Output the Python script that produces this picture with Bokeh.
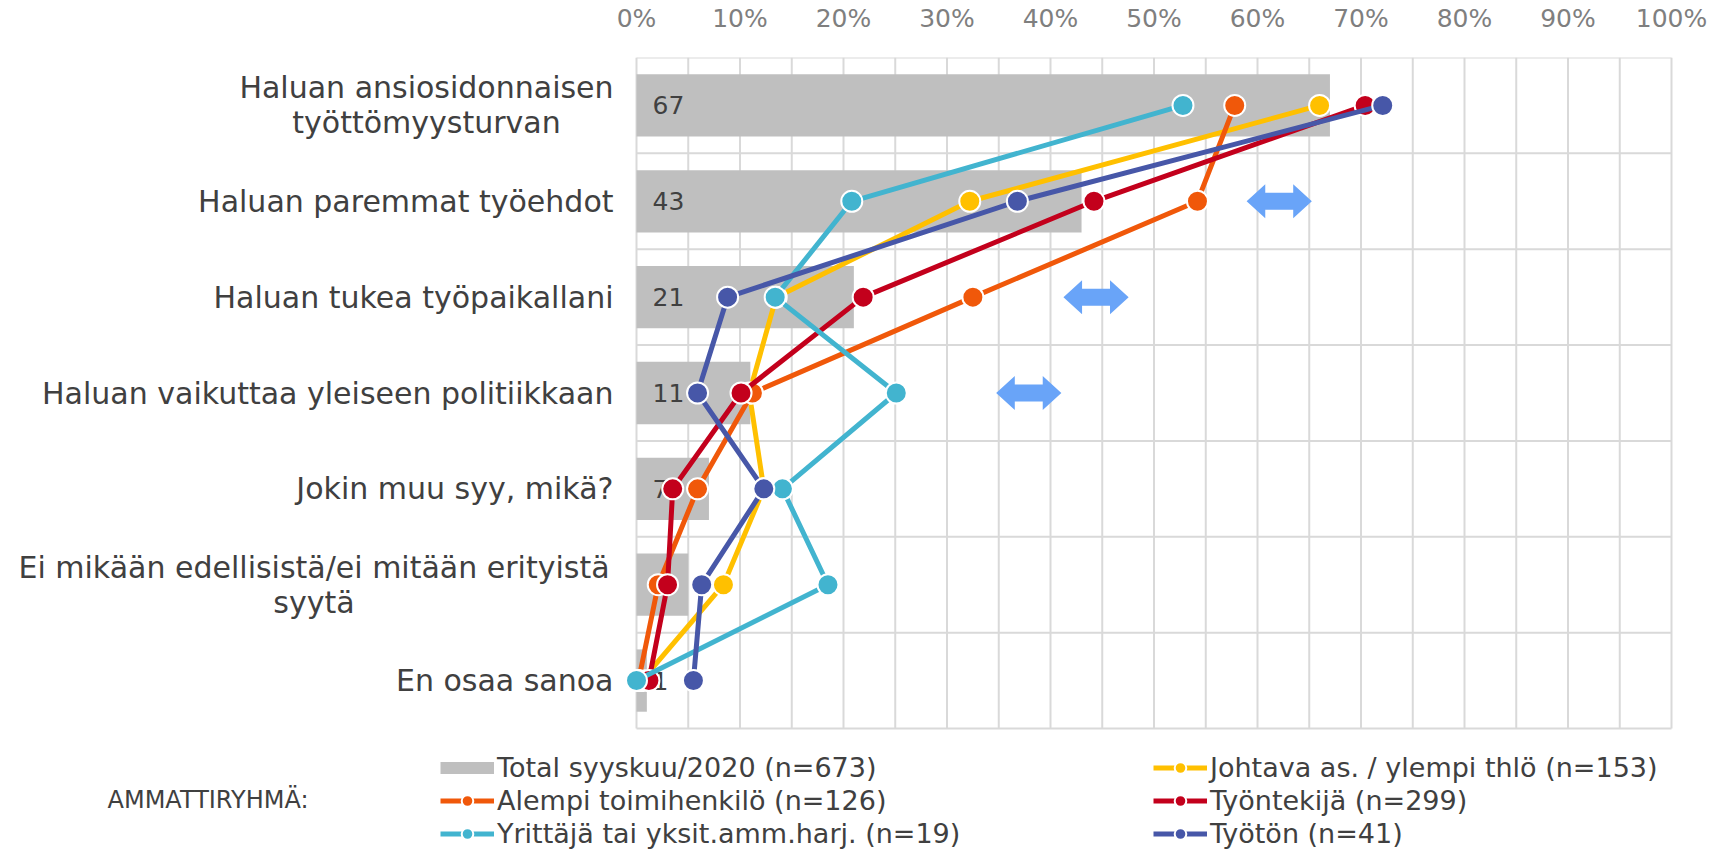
from bokeh.plotting import figure
from bokeh.models import Range1d, FixedTicker, Legend, LegendItem
from bokeh.core.properties import value
from bokeh.embed import file_html
from bokeh.resources import INLINE

# ---------------- data ----------------
categories = [
    "Haluan ansiosidonnaisen\ntyöttömyysturvan",
    "Haluan paremmat työehdot",
    "Haluan tukea työpaikallani",
    "Haluan vaikuttaa yleiseen politiikkaan",
    "Jokin muu syy, mikä?",
    "Ei mikään edellisistä/ei mitään erityistä\nsyytä",
    "En osaa sanoa",
]
total = [67, 43, 21, 11, 7, 5, 1]
johtava = [66.0, 32.2, 13.5, 10.9, 12.3, 8.4, 0.5]
alempi = [57.8, 54.2, 32.5, 11.2, 5.9, 2.1, 0.2]
tyontekija = [70.4, 44.2, 21.9, 10.1, 3.5, 3.0, 1.2]
yrittaja = [52.8, 20.8, 13.4, 25.1, 14.1, 18.5, 0.0]
tyoton = [72.1, 36.8, 8.8, 5.9, 12.3, 6.3, 5.5]

total_name = "Total syyskuu/2020 (n=673)"
series_names = [
    "Johtava as. / ylempi thlö (n=153)",
    "Alempi toimihenkilö (n=126)",
    "Työntekijä (n=299)",
    "Yrittäjä tai yksit.amm.harj. (n=19)",
    "Työtön (n=41)",
]
series_values = [johtava, alempi, tyontekija, yrittaja, tyoton]
legend_title = "AMMATTIRYHMÄ:"

tick_values = [0, 10, 20, 30, 40, 50, 60, 70, 80, 90, 100]
tick_labels = ["0%", "10%", "20%", "30%", "40%", "50%", "60%", "70%", "80%", "90%", "100%"]
grid_values = list(range(0, 101, 5))

arrow_rows = [1, 2, 3]
arrow_centers = [62.1, 44.4, 37.9]

# ---------------- styles / layout ----------------
colors = ["#FFC000", "#F0580A", "#C3001C", "#42B4CF", "#4757A8"]
bar_color = "#BFBFBF"
grid_color = "#D9D9D9"
text_color = "#404040"
arrow_color = "#69A4F8"
FONT = "DejaVu Sans"

W, H = 1711, 849
X0, X100 = 636, 1671          # canvas px of 0% and 100%
Y0, Y7 = 57, 728              # canvas px of top and bottom of the category area
n = len(categories)
PX_X = (X100 - X0) / 100.0
PX_Y = (Y7 - Y0) / float(n)

def dx(px):   # canvas px -> data x
    return (px - X0) / PX_X

def dy(px):   # canvas px -> data y (0 at top)
    return (px - Y0) / PX_Y

p = figure(width=W, height=H, x_range=Range1d(dx(0), dx(W)), y_range=Range1d(dy(H), 0),
           x_axis_location="above", y_axis_location=None,
           toolbar_location=None, output_backend="svg",
           min_border_left=0, min_border_right=0, min_border_top=Y0, min_border_bottom=0)
p.outline_line_color = None
p.background_fill_color = "white"
p.border_fill_color = "white"
p.xgrid.visible = False
p.ygrid.visible = False

ax = p.xaxis[0]
ax.ticker = FixedTicker(ticks=tick_values)
ax.major_label_overrides = {v: l for v, l in zip(tick_values, tick_labels)}
ax.axis_line_color = None
ax.major_tick_line_color = None
ax.minor_tick_line_color = None
ax.major_tick_out = 0
ax.major_tick_in = 0
ax.minor_tick_out = 0
ax.minor_tick_in = 0
ax.major_label_text_font = FONT
ax.major_label_text_font_size = "25px"
ax.major_label_text_color = "#7F7F7F"
ax.major_label_standoff = 25

# grid
p.segment(x0=grid_values, y0=[0] * len(grid_values), x1=grid_values, y1=[n] * len(grid_values),
          line_color=grid_color, line_width=2)
hl_y = list(range(n + 1))
p.segment(x0=[0] * len(hl_y), y0=hl_y, x1=[100] * len(hl_y), y1=hl_y,
          line_color=grid_color, line_width=2)

centers = [i + 0.5 for i in range(n)]

# bars
p.hbar(y=centers, left=0, right=total, height=0.65, fill_color=bar_color, line_color=None)
p.text(x=[0] * n, y=centers, text=[str(v) for v in total], x_offset=16,
       text_align="left", text_baseline="middle", text_font=value(FONT),
       text_font_size="25px", text_color=text_color)

# legend swatch for the bar series (zero-length line, only visible in the legend)
dummy = p.line(x=[0, 0], y=[0, 0], line_width=12, color=bar_color, line_cap="butt")

# arrows
hw, hl = 3.15, 1.8
hh, sh = 17 / PX_Y, 8.5 / PX_Y
xs, ys = [], []
for r, c in zip(arrow_rows, arrow_centers):
    yc = r + 0.5
    xs.append([c - hw, c - hw + hl, c - hw + hl, c + hw - hl, c + hw - hl, c + hw,
               c + hw - hl, c + hw - hl, c - hw + hl, c - hw + hl])
    ys.append([yc, yc - hh, yc - sh, yc - sh, yc - hh, yc, yc + hh, yc + sh, yc + sh, yc + hh])
p.patches(xs, ys, fill_color=arrow_color, line_color=None)

# series
rends = []
for vals, col in zip(series_values, colors):
    rl = p.line(vals, centers, line_width=5, color=col, line_join="round")
    rs = p.scatter(vals, centers, size=21, fill_color=col, line_color="white", line_width=2)
    rends.append([rl, rs])

# category labels
RIGHT = -23
first_line_width = {0: 374, 5: 599}
r_txt, r_y = [], []
c_txt, c_y, c_off = [], [], []
for i, cat in enumerate(categories):
    lines = cat.split("\n")
    if len(lines) == 1:
        r_txt.append(cat)
        r_y.append(centers[i])
    else:
        cx = RIGHT - first_line_width.get(i, 400) / 2.0
        for k, ln in enumerate(lines):
            c_txt.append(ln)
            c_y.append(centers[i] + (-17.5 if k == 0 else 17.5) / PX_Y)
            c_off.append(cx)
p.text(x=[0] * len(r_txt), y=r_y, text=r_txt, x_offset=RIGHT, text_align="right",
       text_baseline="middle", text_font=value(FONT), text_font_size="30px", text_color=text_color)
p.text(x=[0] * len(c_txt), y=c_y, text=c_txt, x_offset=c_off, text_align="center",
       text_baseline="middle", text_font=value(FONT), text_font_size="30px", text_color=text_color)

# legend title
p.text(x=[dx(107)], y=[dy(799)], text=[legend_title], text_align="left", text_baseline="middle",
       text_font=value(FONT), text_font_size="24px", text_color=text_color)

# legends
def mk_legend(items, loc):
    lg = Legend(items=items, location=loc, orientation="vertical",
                glyph_width=54, glyph_height=29, label_height=29, spacing=2,
                label_standoff=3, padding=0, margin=0,
                border_line_color=None, background_fill_alpha=0,
                label_text_font=FONT, label_text_font_size="27px",
                label_text_color=text_color)
    p.add_layout(lg)

items1 = [LegendItem(label=total_name, renderers=[dummy]),
          LegendItem(label=series_names[1], renderers=rends[1]),
          LegendItem(label=series_names[3], renderers=rends[3])]
items2 = [LegendItem(label=series_names[0], renderers=rends[0]),
          LegendItem(label=series_names[2], renderers=rends[2]),
          LegendItem(label=series_names[4], renderers=rends[4])]
mk_legend(items1, (440, 0))
mk_legend(items2, (1153, 0))

open("out.html", "w").write(file_html(p, INLINE))
